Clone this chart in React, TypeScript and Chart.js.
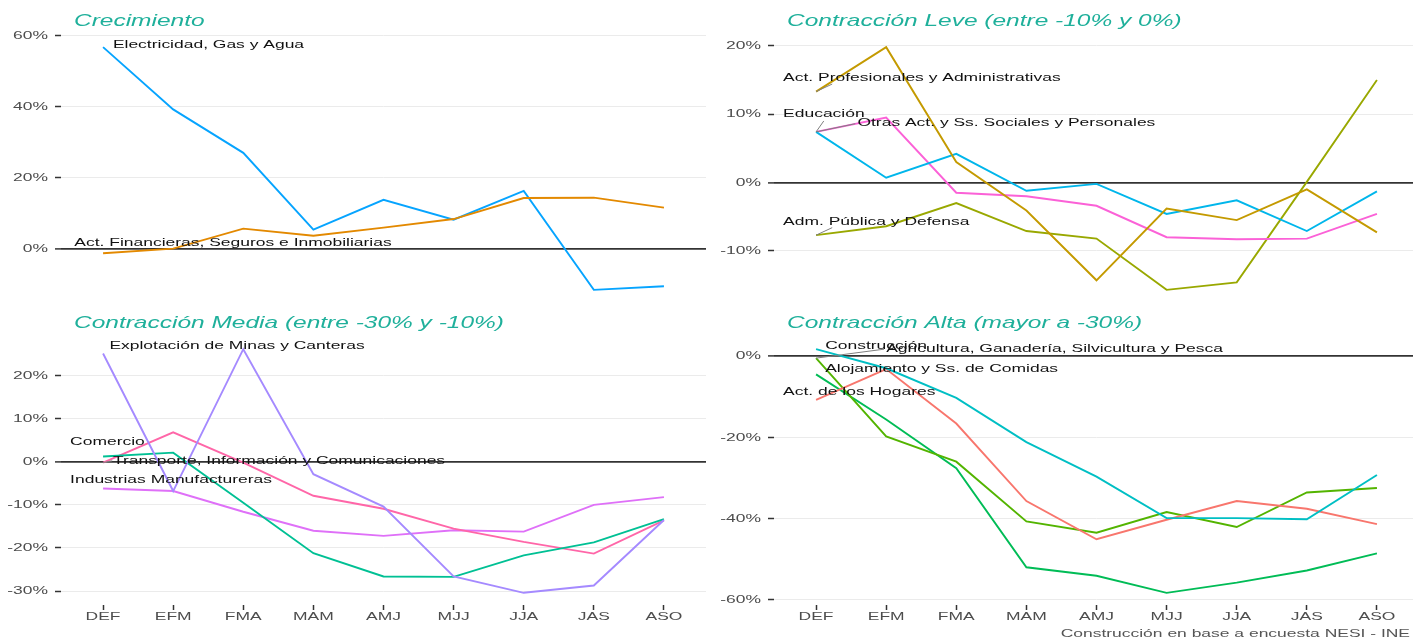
import React, { useEffect, useRef } from "react";
import { Chart, registerables } from "chart.js";

Chart.register(...registerables);

// ---------- data ----------
const CATEGORIES = ["DEF", "EFM", "FMA", "MAM", "AMJ", "MJJ", "JJA", "JAS", "ASO"];

// Crecimiento
const ELECTRICIDAD = [56.7, 39.2, 27.0, 5.4, 13.8, 8.2, 16.3, -11.5, -10.5];
const FINANCIERAS = [-1.2, 0.1, 5.7, 3.7, 6.0, 8.4, 14.3, 14.4, 11.6];
const TICKS_CRECIMIENTO = [0, 20, 40, 60];

// Contracción Leve
const PROFESIONALES = [13.3, 19.8, 3.0, -4.1, -14.3, -3.8, -5.5, -1.0, -7.3];
const EDUCACION = [7.4, 0.7, 4.2, -1.2, -0.2, -4.6, -2.6, -7.1, -1.3];
const OTRAS = [7.4, 9.5, -1.5, -2.0, -3.4, -8.0, -8.3, -8.2, -4.6];
const ADM_PUBLICA = [-7.7, -6.4, -3.0, -7.1, -8.2, -15.7, -14.6, 0.1, 15.0];
const TICKS_LEVE = [-10, 0, 10, 20];

// Contracción Media
const MINAS = [25.1, -6.8, 26.1, -2.9, -10.4, -26.6, -30.4, -28.7, -13.5];
const COMERCIO = [1.2, 2.1, -9.5, -21.2, -26.6, -26.7, -21.7, -18.7, -13.3];
const TRANSPORTE = [-0.2, 6.8, -0.2, -7.9, -10.9, -15.5, -18.6, -21.3, -13.6];
const INDUSTRIAS = [-6.2, -6.8, -11.6, -16.0, -17.2, -15.9, -16.2, -10.0, -8.2];
const TICKS_MEDIA = [-30, -20, -10, 0, 10, 20];

// Contracción Alta
const CONSTRUCCION = [1.7, -3.0, -10.3, -21.2, -29.7, -39.9, -39.9, -40.2, -29.3];
const HOGARES = [-10.8, -3.2, -16.6, -35.7, -45.1, -40.3, -35.7, -37.6, -41.4];
const AGRICULTURA = [-0.5, -19.8, -26.0, -40.7, -43.5, -38.4, -42.1, -33.6, -32.5];
const ALOJAMIENTO = [-4.5, -15.6, -27.6, -52.0, -54.1, -58.3, -55.8, -52.8, -48.6];
const TICKS_ALTA = [-60, -40, -20, 0];

// label annotations (text, anchor in data units; seg = series whose first point links to label)
const LABELS_CRECIMIENTO = [
  { text: "Electricidad, Gas y Agua", x: 0.14, y: 57.5 },
  { text: "Act. Financieras, Seguros e Inmobiliarias", x: -0.41, y: 1.7 },
];
const LABELS_LEVE = [
  { text: "Act. Profesionales y Administrativas", x: -0.47, y: 15.3, seg: 0, sx: 0.23, sy: 14.4 },
  { text: "Educación", x: -0.47, y: 10.1, seg: 1, sx: 0.11, sy: 9.0 },
  { text: "Otras Act. y Ss. Sociales y Personales", x: 0.59, y: 8.7, seg: 2, sx: 0.56, sy: 8.6 },
  { text: "Adm. Pública y Defensa", x: -0.47, y: -5.75, seg: 3, sx: 0.23, sy: -6.6 },
];
const LABELS_MEDIA = [
  { text: "Explotación de Minas y Canteras", x: 0.09, y: 26.8 },
  { text: "Comercio", x: -0.47, y: 4.7 },
  { text: "Transporte, Información y Comunicaciones", x: 0.14, y: 0.2, seg: 2, sx: 0.13, sy: 0.2 },
  { text: "Industrias Manufactureras", x: -0.47, y: -4.2 },
];
const LABELS_ALTA = [
  { text: "Construcción", x: 0.13, y: 2.5 },
  { text: "Agricultura, Ganadería, Silvicultura y Pesca", x: 1.0, y: 1.7, seg: 2, sx: 0.97, sy: 1.7 },
  { text: "Alojamiento y Ss. de Comidas", x: 0.13, y: -3.0 },
  { text: "Act. de los Hogares", x: -0.47, y: -8.7 },
];

const CAPTION = "Construcción en base a encuesta NESI - INE";

// ---------- styling ----------
const FONT_SMALL = '11.8px "Liberation Sans", Arial, Helvetica, sans-serif';
const FONT_TITLE = 'italic 17px "Liberation Sans", Arial, Helvetica, sans-serif';
const SX_SMALL = 1.48;
const SX_TITLE = 1.44;
const TITLE_COLOR = "#1FB09B";
const AXIS_TEXT = "#4D4D4D";

type Series = { name: string; values: number[]; color: string };
type Label = { text: string; x: number; y: number; seg?: number; sx?: number; sy?: number };
type PanelSpec = {
  title: string;
  series: Series[];
  ticks: number[];
  labels: Label[];
  showX: boolean;
  yWidth: number;
  padTop: number;
  padBottom: number;
  caption?: string;
};

function drawText(
  ctx: CanvasRenderingContext2D,
  text: string,
  x: number,
  y: number,
  align: CanvasTextAlign,
  font: string,
  color: string,
  sx: number
) {
  ctx.save();
  ctx.translate(x, y);
  ctx.scale(sx, 1);
  ctx.font = font;
  ctx.fillStyle = color;
  ctx.textAlign = align;
  ctx.textBaseline = "middle";
  ctx.fillText(text, 0, 0);
  ctx.restore();
}

const decorPlugin = {
  id: "panelDecor",
  afterDatasetsDraw(chart: any) {
    const o = chart.options.plugins.panelDecor as PanelSpec;
    const { ctx, chartArea: ca } = chart;
    const xs = chart.scales.x;
    const ys = chart.scales.y;
    ctx.save();
    for (const v of o.ticks) {
      drawText(ctx, `${v}%`, ca.left - 13, ys.getPixelForValue(v), "right", FONT_SMALL, AXIS_TEXT, SX_SMALL);
    }
    if (o.showX) {
      CATEGORIES.forEach((c, i) => {
        drawText(ctx, c, xs.getPixelForValue(i), ca.bottom + 12, "center", FONT_SMALL, AXIS_TEXT, SX_SMALL);
      });
    }
    drawText(ctx, o.title, ca.left + 13, ca.top - 14, "left", FONT_TITLE, TITLE_COLOR, SX_TITLE);
    for (const l of o.labels) {
      if (l.seg !== undefined) {
        const s = o.series[l.seg];
        ctx.beginPath();
        ctx.strokeStyle = "#7F7F7F";
        ctx.lineWidth = 1;
        ctx.moveTo(xs.getPixelForValue(0), ys.getPixelForValue(s.values[0]));
        ctx.lineTo(xs.getPixelForValue(l.sx as number), ys.getPixelForValue(l.sy as number));
        ctx.stroke();
      }
    }
    for (const l of o.labels) {
      drawText(ctx, l.text, xs.getPixelForValue(l.x), ys.getPixelForValue(l.y), "left", FONT_SMALL, "#111111", SX_SMALL);
    }
    if (o.caption) {
      drawText(ctx, o.caption, ca.right - 9, ca.bottom + 29, "right", FONT_SMALL, "#555555", SX_SMALL);
    }
    ctx.restore();
  },
};

function makeConfig(p: PanelSpec): any {
  const all = p.series.flatMap((s) => s.values);
  const lo = Math.min(...all);
  const hi = Math.max(...all);
  const pad = (hi - lo) * 0.05;
  return {
    type: "line",
    data: {
      datasets: p.series.map((s) => ({
        label: s.name,
        data: s.values.map((v, i) => ({ x: i, y: v })),
        borderColor: s.color,
        backgroundColor: s.color,
        borderWidth: 1.9,
        pointRadius: 0,
        fill: false,
        tension: 0,
      })),
    },
    options: {
      animation: false,
      responsive: false,
      events: [],
      layout: { padding: { top: p.padTop, bottom: p.padBottom, left: 0, right: 0 } },
      plugins: {
        legend: { display: false },
        tooltip: { enabled: false },
        panelDecor: p,
      },
      scales: {
        x: {
          type: "linear",
          min: -0.6,
          max: 8.6,
          display: p.showX,
          afterBuildTicks: (s: any) => {
            s.ticks = CATEGORIES.map((_, i) => ({ value: i }));
          },
          afterFit: (s: any) => {
            s.height = p.showX ? 20 : 0;
          },
          grid: {
            drawOnChartArea: false,
            drawTicks: true,
            tickLength: 5,
            tickColor: "#333333",
            tickWidth: 1.5,
          },
          border: { display: false },
          ticks: { display: false },
        },
        y: {
          type: "linear",
          min: lo - pad,
          max: hi + pad,
          afterBuildTicks: (s: any) => {
            s.ticks = p.ticks.map((v) => ({ value: v }));
          },
          afterFit: (s: any) => {
            s.width = p.yWidth;
          },
          grid: {
            color: (c: any) => (c.tick && c.tick.value === 0 ? "#333333" : "#EBEBEB"),
            lineWidth: (c: any) => (c.tick && c.tick.value === 0 ? 1.8 : 1),
            drawTicks: true,
            tickLength: 6,
            tickColor: "#333333",
            tickWidth: 1.5,
          },
          border: { display: false },
          ticks: { display: false },
        },
      },
    },
    plugins: [decorPlugin],
  };
}

const PANELS: { spec: PanelSpec; left: number; top: number; width: number; height: number }[] = [
  {
    left: 0,
    top: 0,
    width: 706,
    height: 305,
    spec: {
      title: "Crecimiento",
      series: [
        { name: "Act. Financieras, Seguros e Inmobiliarias", values: FINANCIERAS, color: "#E38900" },
        { name: "Electricidad, Gas y Agua", values: ELECTRICIDAD, color: "#06A4FF" },
      ],
      ticks: TICKS_CRECIMIENTO,
      labels: LABELS_CRECIMIENTO,
      showX: false,
      yWidth: 61,
      padTop: 35,
      padBottom: 3,
    },
  },
  {
    left: 706,
    top: 0,
    width: 713,
    height: 305,
    spec: {
      title: "Contracción Leve (entre -10% y 0%)",
      series: [
        { name: "Act. Profesionales y Administrativas", values: PROFESIONALES, color: "#C49A00" },
        { name: "Educación", values: EDUCACION, color: "#00B6EB" },
        { name: "Otras Act. y Ss. Sociales y Personales", values: OTRAS, color: "#FB61D7" },
        { name: "Adm. Pública y Defensa", values: ADM_PUBLICA, color: "#99A800" },
      ],
      ticks: TICKS_LEVE,
      labels: LABELS_LEVE,
      showX: false,
      yWidth: 68,
      padTop: 35,
      padBottom: 3,
    },
  },
  {
    left: 0,
    top: 305,
    width: 706,
    height: 335,
    spec: {
      title: "Contracción Media (entre -30% y -10%)",
      series: [
        { name: "Explotación de Minas y Canteras", values: MINAS, color: "#A58AFF" },
        { name: "Comercio", values: COMERCIO, color: "#00C094" },
        { name: "Transporte, Información y Comunicaciones", values: TRANSPORTE, color: "#FF66A8" },
        { name: "Industrias Manufactureras", values: INDUSTRIAS, color: "#DF70F8" },
      ],
      ticks: TICKS_MEDIA,
      labels: LABELS_MEDIA,
      showX: true,
      yWidth: 61,
      padTop: 32,
      padBottom: 15,
    },
  },
  {
    left: 706,
    top: 305,
    width: 713,
    height: 335,
    spec: {
      title: "Contracción Alta (mayor a -30%)",
      series: [
        { name: "Construcción", values: CONSTRUCCION, color: "#00BFC4" },
        { name: "Act. de los Hogares", values: HOGARES, color: "#F8766D" },
        { name: "Agricultura, Ganadería, Silvicultura y Pesca", values: AGRICULTURA, color: "#53B400" },
        { name: "Alojamiento y Ss. de Comidas", values: ALOJAMIENTO, color: "#00BC56" },
      ],
      ticks: TICKS_ALTA,
      labels: LABELS_ALTA,
      showX: true,
      yWidth: 68,
      padTop: 32,
      padBottom: 15,
      caption: CAPTION,
    },
  },
];

function Panel(props: { spec: PanelSpec; left: number; top: number; width: number; height: number }) {
  const ref = useRef<HTMLCanvasElement | null>(null);
  useEffect(() => {
    if (!ref.current) return;
    const chart = new Chart(ref.current, makeConfig(props.spec));
    return () => chart.destroy();
  }, []);
  return (
    <canvas
      ref={ref}
      width={props.width}
      height={props.height}
      style={{
        position: "absolute",
        left: props.left,
        top: props.top,
        width: props.width,
        height: props.height,
        display: "block",
      }}
    />
  );
}

export default function App() {
  return (
    <div
      style={{
        position: "absolute",
        left: 0,
        top: 0,
        width: 1413,
        height: 640,
        overflow: "hidden",
        background: "#FFFFFF",
      }}
    >
      {PANELS.map((p, i) => (
        <Panel key={i} {...p} />
      ))}
    </div>
  );
}
